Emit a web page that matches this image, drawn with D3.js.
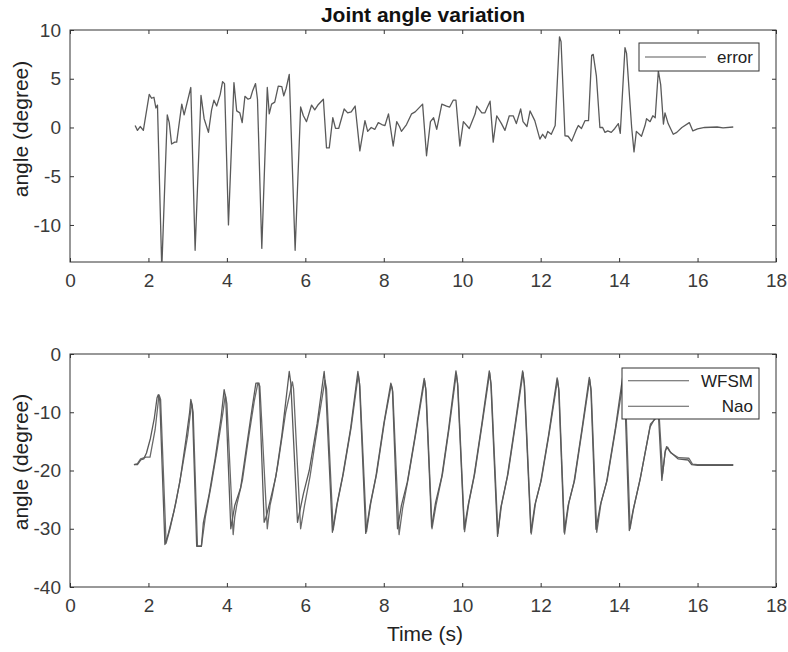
<!DOCTYPE html>
<html>
<head>
<meta charset="utf-8">
<script src="https://cdn.jsdelivr.net/npm/d3@7"></script>
<style>
  body { margin: 0; background: #fff; }
  svg { font-family: "Liberation Sans", Arial, sans-serif; }
  .axis text { font-size: 19px; fill: #3a3a3a; }
  .axis line { stroke: #333; }
  .axis path { display: none; }
</style>
</head>
<body>
<svg width="788" height="652"></svg>
<script>
// time ticks shared by both panels
var timeTicks = [0, 2, 4, 6, 8, 10, 12, 14, 16, 18];
var errTicks = [-10, -5, 0, 5, 10];
var angTicks = [-40, -30, -20, -10, 0];

// error between the two joint angles (t, degree)
var errorData = [[1.66,0.2],[1.72,-0.3],[1.79,0.1],[1.87,-0.3],[2.02,3.4],[2.08,3.0],[2.14,3.1],[2.19,2.0],[2.23,2.3],
  [2.34,-14.5],[2.48,1.3],[2.53,0.5],[2.59,-1.7],[2.67,-1.5],[2.72,-1.5],[2.85,2.4],[2.91,1.3],[3.08,4.1],
  [3.19,-12.6],[3.34,3.3],[3.42,0.9],[3.53,-0.5],[3.61,1.8],[3.67,2.8],[3.74,2.2],[3.83,3.4],[3.89,4.7],[3.94,4.5],
  [4.04,-10],[4.18,4.6],[4.25,1.7],[4.33,1.5],[4.39,0.5],[4.46,3.2],[4.54,2.9],[4.60,3.0],[4.66,3.8],[4.73,4.5],[4.78,2.9],
  [4.89,-12.4],[5.03,4.1],[5.08,1.4],[5.14,2.4],[5.22,2.6],[5.31,4.25],[5.40,4.2],[5.45,3.25],[5.51,4.0],[5.59,5.45],
  [5.74,-12.6],[5.88,2.1],[5.95,1.2],[6.03,0.6],[6.16,2.3],[6.24,1.8],[6.32,2.3],[6.46,2.9],[6.54,-2.1],[6.61,-2.1],
  [6.70,1.0],[6.77,-0.1],[6.85,-0.1],[6.99,1.9],[7.08,1.5],[7.17,1.6],[7.27,2.2],[7.39,-2.4],[7.52,0.7],[7.59,-0.4],
  [7.68,0.0],[7.77,-0.2],[7.86,0.5],[7.95,0.3],[8.03,0.2],[8.12,1.4],[8.24,-1.9],[8.33,0.6],[8.40,0.1],[8.45,-0.4],
  [8.58,0.3],[8.71,1.4],[8.80,1.6],[8.99,2.4],[9.09,-2.9],[9.19,0.6],[9.27,1.0],[9.35,-0.2],[9.48,2.4],[9.60,2.2],
  [9.68,2.1],[9.77,2.8],[9.84,2.8],[9.94,-1.9],[10.03,0.6],[10.18,-0.1],[10.33,1.4],[10.37,2.2],[10.50,1.5],[10.58,1.5],
  [10.62,1.9],[10.71,2.7],[10.79,-1.5],[10.88,1.2],[11.0,0.4],[11.09,-0.3],[11.2,1.2],[11.3,1.2],[11.38,0.4],[11.49,1.9],
  [11.55,0.6],[11.65,0.1],[11.73,1.7],[11.85,0.7],[11.98,-1.2],[12.05,-0.7],[12.12,-1.1],[12.18,-0.4],[12.27,-0.7],
  [12.37,0.2],[12.48,9.3],[12.52,8.8],[12.62,-0.85],[12.70,-0.9],[12.79,-1.4],[12.90,-0.3],[12.96,0.2],[13.04,-0.1],
  [13.13,0.7],[13.22,0.7],[13.30,7.4],[13.34,7.5],[13.42,5.3],[13.51,0.0],[13.58,0.0],[13.64,-0.5],[13.71,-0.35],
  [13.80,-0.5],[13.89,-0.1],[13.98,0.4],[14.03,-0.6],[14.15,8.2],[14.19,7.6],[14.32,0.0],[14.38,-2.5],[14.44,-0.4],
  [14.57,-0.9],[14.66,0.2],[14.70,0.9],[14.79,0.6],[14.86,1.2],[14.92,1.0],[15.0,5.8],[15.06,4.4],[15.13,0.35],
  [15.17,1.5],[15.25,0.4],[15.38,-0.7],[15.47,-0.5],[15.6,0.0],[15.79,0.5],[15.88,-0.35],[16.0,-0.15],[16.18,0.0],
  [16.5,0.05],[16.65,-0.05],[16.91,0.05]];

// joint angle from the WFSM controller
var wfsmData = [[1.63,-19.0],[1.72,-19.0],[1.80,-18.2],[1.88,-18.0],[1.95,-17.0],[2.05,-14.5],[2.15,-11],[2.22,-7.5],[2.25,-7.0],
  [2.29,-8],[2.42,-32.7],[2.50,-31],[2.65,-27],[2.80,-22],[2.95,-15],[3.05,-10],[3.08,-7.8],[3.12,-9],[3.23,-33.0],
  [3.35,-33.0],[3.40,-29],[3.55,-24],[3.70,-18],[3.85,-11],[3.93,-6.1],[3.97,-7.5],[4.10,-30.0],[4.15,-28],[4.20,-26],
  [4.35,-23],[4.50,-16],[4.65,-9],[4.74,-5.0],[4.82,-5.0],[4.95,-28.9],[5.00,-28],[5.10,-25.3],[5.25,-21],[5.40,-14],
  [5.59,-3.0],[5.63,-5],[5.80,-28.9],[5.95,-24],[6.10,-20],[6.30,-12],[6.48,-3.0],[6.52,-6],[6.69,-30.6],[6.80,-26],
  [6.95,-21],[7.15,-13],[7.34,-3.0],[7.38,-5],[7.54,-30.8],[7.65,-26],[7.80,-21],[8.00,-12],[8.18,-5.0],[8.22,-6],
  [8.35,-30.0],[8.45,-26],[8.60,-22],[8.80,-14],[9.03,-4.2],[9.07,-6],[9.22,-29.7],[9.32,-25.5],[9.48,-21],[9.65,-13],
  [9.84,-2.9],[9.88,-5],[10.05,-30.1],[10.15,-26],[10.30,-21],[10.50,-12],[10.69,-2.9],[10.73,-5],[10.90,-31.3],
  [10.98,-26.5],[11.15,-21],[11.35,-12],[11.54,-2.9],[11.58,-5],[11.75,-30.6],[11.85,-26],[12.00,-22],[12.20,-14],
  [12.42,-4.1],[12.46,-6],[12.60,-30.6],[12.70,-26],[12.85,-22],[13.05,-13],[13.24,-4.0],[13.28,-6],[13.41,-30.1],
  [13.52,-26],[13.68,-22],[13.90,-13],[14.10,-3.5],[14.14,-6],[14.26,-30.3],[14.35,-27],[14.53,-21.7],[14.79,-12.5],
  [15.00,-10],[15.09,-21.7],[15.17,-17],[15.21,-15.9],[15.30,-16.8],[15.50,-18],[15.76,-18.2],[15.85,-19.0],
  [16.00,-19.1],[16.91,-19.1]];

// joint angle measured on the Nao
var naoData = [[1.63,-19.0],[1.72,-18.8],[1.80,-18.0],[1.94,-17.7],[2.04,-17.7],[2.17,-13],[2.27,-7.0],[2.31,-7.8],
  [2.45,-32.5],[2.55,-30],[2.70,-25.5],[2.85,-20],[3.00,-14],[3.10,-8.5],[3.14,-10],[3.25,-33.0],[3.35,-33.0],
  [3.45,-28],[3.60,-22.5],[3.75,-16.5],[3.90,-10],[3.96,-7],[4.00,-8.5],[4.16,-31],[4.20,-28],[4.25,-26],[4.40,-21.5],
  [4.55,-14.5],[4.70,-8],[4.79,-5.0],[4.84,-5.5],[5.03,-30],[5.10,-26],[5.15,-24.5],[5.30,-19],[5.50,-10],[5.67,-4.8],
  [5.70,-6],[5.88,-30.0],[5.98,-26],[6.12,-21],[6.32,-12],[6.50,-4.5],[6.54,-6],[6.71,-30.2],[6.82,-25.5],[6.97,-20.5],
  [7.17,-12.5],[7.35,-3.5],[7.39,-5.5],[7.56,-30.5],[7.67,-25.5],[7.82,-20.5],[8.02,-11.5],[8.19,-5.3],[8.23,-6.5],
  [8.39,-31.0],[8.48,-26.5],[8.62,-21.5],[8.82,-13.5],[9.04,-4.5],[9.08,-6.5],[9.23,-30.0],[9.33,-26],[9.50,-20.5],
  [9.67,-12.5],[9.85,-3.3],[9.89,-5.5],[10.06,-30.5],[10.17,-25.5],[10.32,-20.5],[10.52,-11.5],[10.70,-3.2],[10.74,-5.5],
  [10.91,-30.8],[11.00,-26],[11.17,-20.5],[11.37,-11.5],[11.55,-3.2],[11.59,-5.5],[11.76,-30.9],[11.87,-25.5],
  [12.02,-21.5],[12.22,-13.5],[12.43,-4.4],[12.47,-6.5],[12.61,-30.9],[12.72,-25.5],[12.87,-21.5],[13.07,-12.5],
  [13.25,-4.3],[13.29,-6.5],[13.43,-30.6],[13.54,-25.5],[13.70,-21.5],[13.92,-12.5],[14.12,-4],[14.16,-6.5],
  [14.28,-30.0],[14.37,-26.5],[14.55,-21],[14.80,-12],[15.02,-10.5],[15.11,-20.5],[15.18,-16.5],[15.24,-16.0],
  [15.32,-17.0],[15.52,-17.8],[15.78,-17.9],[15.87,-18.9],[16.00,-19.0],[16.91,-19.0]];

var svg = d3.select('svg');
var lineColor = '#5a5a5a';

var x = d3.scaleLinear().domain([0, 18]).range([70, 776]);
var yTop = d3.scaleLinear().domain([-13.8, 10]).range([262, 30]);
var yBot = d3.scaleLinear().domain([-40, 0]).range([587, 354]);

// plain hyphen minus like the original plot
var fmt = function(d) { return String(d); };

// draws one axes box with inward ticks on all four sides
function drawPanel(y, yTicks, id) {
    var top = y.range()[1], bottom = y.range()[0];
    var left = x.range()[0], right = x.range()[1];

    svg.append('clipPath').attr('id', id)
        .append('rect')
        .attr('x', left).attr('y', top)
        .attr('width', right - left).attr('height', bottom - top);

    svg.append('g').attr('class', 'axis')
        .attr('transform', 'translate(0,' + bottom + ')')
        .call(d3.axisBottom(x).tickValues(timeTicks).tickSizeInner(-4).tickSizeOuter(0).tickPadding(12).tickFormat(fmt));
    svg.append('g').attr('class', 'axis')
        .attr('transform', 'translate(0,' + top + ')')
        .call(d3.axisTop(x).tickValues(timeTicks).tickSizeInner(-4).tickSizeOuter(0).tickFormat(''));
    svg.append('g').attr('class', 'axis')
        .attr('transform', 'translate(' + left + ',0)')
        .call(d3.axisLeft(y).tickValues(yTicks).tickSizeInner(-4).tickSizeOuter(0).tickPadding(9).tickFormat(fmt));
    svg.append('g').attr('class', 'axis')
        .attr('transform', 'translate(' + right + ',0)')
        .call(d3.axisRight(y).tickValues(yTicks).tickSizeInner(-4).tickSizeOuter(0).tickFormat(''));

    svg.append('rect')
        .attr('x', left).attr('y', top)
        .attr('width', right - left).attr('height', bottom - top)
        .attr('fill', 'none').attr('stroke', '#333').attr('stroke-width', 1);
}

function drawLine(data, y, id, color) {
    var line = d3.line()
        .x(function(d) { return x(d[0]); })
        .y(function(d) { return y(d[1]); });
    svg.append('path')
        .datum(data)
        .attr('clip-path', 'url(#' + id + ')')
        .attr('fill', 'none')
        .attr('stroke', color)
        .attr('stroke-width', 1.3)
        .attr('stroke-linejoin', 'round')
        .attr('d', line);
}

function drawLegend(names, x0, y0, w, h) {
    var g = svg.append('g').attr('transform', 'translate(' + x0 + ',' + y0 + ')');
    g.append('rect').attr('width', w).attr('height', h)
        .attr('fill', '#fff').attr('stroke', '#333').attr('stroke-width', 1);
    var step = h / names.length;
    names.forEach(function(n, i) {
        var cy = step * (i + 0.5);
        g.append('line')
            .attr('x1', 6).attr('x2', 67).attr('y1', cy).attr('y2', cy)
            .attr('stroke', lineColor).attr('stroke-width', 1.1);
        g.append('text')
            .attr('x', w - 6).attr('y', cy).attr('dy', '0.35em')
            .attr('text-anchor', 'end')
            .style('font-size', '17px').style('fill', '#222')
            .text(n);
    });
}

// top: error
drawPanel(yTop, errTicks, 'clipTop');
drawLine(errorData, yTop, 'clipTop', lineColor);
drawLegend(['error'], 639, 43, 120, 28);

// bottom: WFSM vs Nao
drawPanel(yBot, angTicks, 'clipBot');
drawLine(naoData, yBot, 'clipBot', '#6a6a6a');
drawLine(wfsmData, yBot, 'clipBot', lineColor);
drawLegend(['WFSM', 'Nao'], 622, 368, 137, 51);

// titles and labels
svg.append('text')
    .attr('x', 423).attr('y', 22)
    .attr('text-anchor', 'middle')
    .style('font-size', '21px').style('font-weight', 'bold').style('fill', '#111')
    .text('Joint angle variation');

[[yTop, 129], [yBot, 462]].forEach(function(p) {
    svg.append('text')
        .attr('transform', 'translate(28,' + p[1] + ') rotate(-90)')
        .attr('text-anchor', 'middle')
        .style('font-size', '21px').style('fill', '#222')
        .text('angle (degree)');
});

svg.append('text')
    .attr('x', 425).attr('y', 641)
    .attr('text-anchor', 'middle')
    .style('font-size', '21px').style('fill', '#222')
    .text('Time (s)');
</script>
</body>
</html>
